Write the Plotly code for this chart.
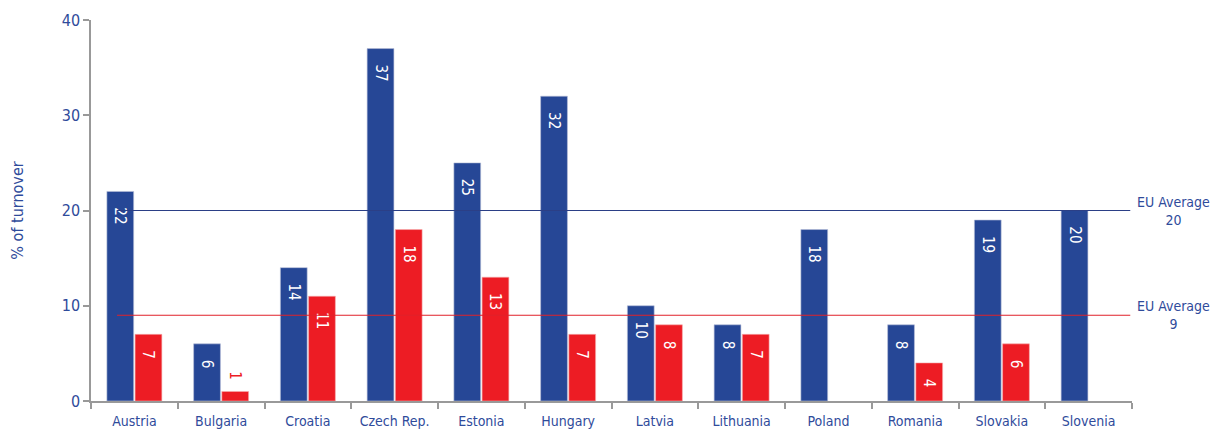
import plotly.graph_objects as go

countries = ["Austria", "Bulgaria", "Croatia", "Czech Rep.", "Estonia", "Hungary",
             "Latvia", "Lithuania", "Poland", "Romania", "Slovakia", "Slovenia"]
blue_values = [22, 6, 14, 37, 25, 32, 10, 8, 18, 8, 19, 20]
red_values = [7, 1, 11, 18, 13, 7, 8, 7, None, 4, 6, None]
eu_avg_blue = 20
eu_avg_red = 9
y_ticks = [0, 10, 20, 30, 40]

BLUE = "#264796"
RED = "#ed1c24"
TEXT = "#2f4b9b"
FONT = "DejaVu Sans Condensed, Liberation Sans Narrow, sans-serif"
PAD = "\u00a0\u00a0\u00a0"

def positions(vals):
    return ["outside" if (v is not None and v < 3) else "inside" for v in vals]

def labels(vals):
    out = []
    for v, p in zip(vals, positions(vals)):
        if v is None:
            out.append("")
        elif p == "inside":
            out.append(PAD + str(v))
        else:
            out.append(str(v) + "\u00a0\u00a0")
    return out

fig = go.Figure()
fig.add_trace(go.Bar(
    x=countries, y=blue_values, marker=dict(color=BLUE, line=dict(color="#b8c0d8", width=0.6)),
    text=labels(blue_values), textposition=positions(blue_values), textangle=90,
    insidetextanchor="end", insidetextfont=dict(color="white", size=15, family=FONT),
    outsidetextfont=dict(color=BLUE, size=15, family=FONT), cliponaxis=False,
    constraintext="none", showlegend=False, hoverinfo="x+y"))
fig.add_trace(go.Bar(
    x=countries, y=red_values, marker=dict(color=RED, line=dict(color="#f5b0b0", width=0.6)),
    text=labels(red_values), textposition=positions(red_values), textangle=90,
    insidetextanchor="end", insidetextfont=dict(color="white", size=15, family=FONT),
    outsidetextfont=dict(color=RED, size=15, family=FONT), cliponaxis=False,
    constraintext="none", showlegend=False, hoverinfo="x+y"))

fig.add_shape(type="line", xref="x", yref="y", x0=-0.2, x1=11.48, y0=eu_avg_blue, y1=eu_avg_blue,
              line=dict(color="#2b3f86", width=1.2), layer="above")
fig.add_shape(type="line", xref="x", yref="y", x0=-0.2, x1=11.48, y0=eu_avg_red, y1=eu_avg_red,
              line=dict(color="#e0202a", width=1.2), layer="above")

for v in (eu_avg_blue, eu_avg_red):
    fig.add_annotation(xref="paper", yref="y", x=1.04, y=v, xanchor="center", yanchor="middle",
                       text=f"EU Average<br>{v}", showarrow=False,
                       font=dict(color=TEXT, size=14, family=FONT), align="center")

fig.update_layout(
    width=1221, height=435,
    margin=dict(l=91, r=89, t=20, b=34),
    paper_bgcolor="white", plot_bgcolor="white",
    barmode="group", bargap=0.35, bargroupgap=0.05,
    font=dict(family=FONT, color=TEXT, size=15),
)
fig.update_xaxes(
    tickson="boundaries", ticks="outside", ticklen=6, tickcolor="#999999", tickwidth=1.5,
    showline=True, linecolor="#999999", linewidth=1.5, showgrid=False, automargin=False,
    tickfont=dict(size=14, color=TEXT, family=FONT), ticklabelstandoff=6,
)
fig.update_yaxes(
    range=[0, 40], tickvals=y_ticks, ticks="outside", ticklen=6, tickcolor="#999999", tickwidth=1.5,
    showline=True, linecolor="#999999", linewidth=1.5, showgrid=False, zeroline=False, automargin=False,
    tickfont=dict(size=16, color=TEXT, family=FONT),
    title=dict(text="% of turnover", font=dict(size=16, color=TEXT, family=FONT), standoff=34),
)

fig.write_html("out.html", config={"displayModeBar": False},
               post_script="document.body.style.margin='0px';document.body.style.overflow='hidden';")
